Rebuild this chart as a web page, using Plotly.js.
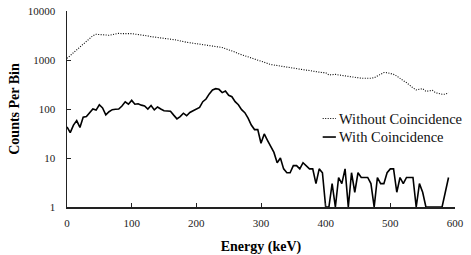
<!DOCTYPE html>
<html>
<head>
<meta charset="utf-8">
<script src="https://cdn.plot.ly/plotly-3.0.1.min.js"></script>
<style>html,body{margin:0;padding:0;background:#fff;}#chart{width:471px;height:255px;}</style>
</head>
<body>
<div id="chart"></div>
<script>
const energy = [0,5,10,15,20,25,30,35,40,45,50,55,60,65,70,75,80,85,90,95,
100,105,110,115,120,125,130,135,140,145,150,155,160,165,170,175,180,185,190,195,
200,205,210,215,220,225,230,235,240,245,250,255,260,265,270,275,280,285,290,295,
300,305,310,315,320,325,330,335,340,345,350,355,360,365,370,375,380,385,390,395,
400,405,410,415,420,425,430,435,440,445,450,455,460,465,470,475,480,485,490,495,
500,505,510,515,520,525,530,535,540,545,550,555,560,565,570,575,580,585,590];

const withoutCoincidence = [1080,1240,1410,1620,1840,2100,2400,2750,3130,3350,3300,3250,3300,3200,3300,3450,3500,3450,3500,3450,
3450,3400,3350,3250,3200,3100,3000,2950,2900,2850,2800,2750,2650,2600,2550,2450,2350,2300,2250,2200,
2150,2150,2100,2050,2000,1980,1900,1850,1800,1700,1620,1520,1450,1350,1280,1200,1150,1100,1040,970,
930,880,840,810,790,770,750,720,700,690,670,650,640,630,620,610,590,575,565,555,
550,495,500,510,495,485,475,460,445,435,430,425,425,420,425,435,470,515,555,550,
535,510,470,430,380,345,300,270,245,255,260,230,235,240,215,205,200,200,215];

const withCoincidence = [43,33,47,58,42,68,70,85,100,95,122,105,76,88,97,99,100,115,140,125,
150,125,128,120,115,100,118,96,110,100,92,91,90,75,63,70,82,73,85,92,
100,108,141,160,203,244,260,252,216,233,190,178,141,122,97,84,65,47,38,38,
20,31,23,17,13,8,10,6,5,5,7,7,6,8,7,6,6,3,6,5,
1,1,3,1,4,3,6,1,5,2,5,4,4,4,3,1,4,3,3,5,
6,6,2,4,3,4,4,4,1,3,2,1,1,1,1,1,1,2,4];

const yTicks = [1,10,100,1000,10000];
const yTickText = ['1','10','100','1000','10000'];
const seriesNames = ['Without Coincidence','With Coincidence'];

const serif = '"Liberation Serif", "DejaVu Serif", serif';

const traces = [
  {x: energy, y: withoutCoincidence, type: 'scatter', mode: 'lines', name: seriesNames[0],
   line: {color: '#000', width: 1.1, dash: '1px,1.5px'}},
  {x: energy, y: withCoincidence, type: 'scatter', mode: 'lines', name: seriesNames[1],
   line: {color: '#000', width: 1.6}}
];

const layout = {
  width: 471, height: 255,
  margin: {l: 67, r: 16, t: 11, b: 48},
  paper_bgcolor: '#fff', plot_bgcolor: '#fff',
  showlegend: false,
  font: {family: serif, size: 11, color: '#000'},
  xaxis: {
    range: [0, 600], dtick: 100, tick0: 0,
    showgrid: false, zeroline: false,
    showline: true, linecolor: '#222', linewidth: 1.5,
    ticks: 'inside', ticklen: 4, tickcolor: '#222', tickwidth: 1,
    tickfont: {family: serif, size: 11, color: '#222'},
    ticklabelstandoff: 5,
    title: {text: '<b>Energy (keV)</b>', font: {family: serif, size: 14, color: '#000'}, standoff: 16}
  },
  yaxis: {
    type: 'log', range: [0, 4],
    tickvals: yTicks, ticktext: yTickText,
    showgrid: false, zeroline: false,
    showline: true, linecolor: '#222', linewidth: 1.5,
    ticks: 'inside', ticklen: 4, tickcolor: '#222', tickwidth: 1,
    tickfont: {family: serif, size: 11, color: '#222'},
    ticklabelstandoff: 8,
    title: {text: '<b>Counts Per Bin</b>', font: {family: serif, size: 14, color: '#000'}, standoff: 5}
  },
  shapes: [
    {type: 'line', xref: 'paper', yref: 'paper', x0: 0.659, x1: 0.693, y0: 0.4515, y1: 0.4515,
     line: {color: '#000', width: 1.1, dash: '1px,1.5px'}},
    {type: 'line', xref: 'paper', yref: 'paper', x0: 0.659, x1: 0.693, y0: 0.357, y1: 0.357,
     line: {color: '#000', width: 1.6}}
  ],
  annotations: [
    {xref: 'paper', yref: 'paper', x: 0.695, y: 0.4515, xanchor: 'left', yanchor: 'middle',
     text: seriesNames[0], showarrow: false, font: {family: serif, size: 14.5, color: '#111'}},
    {xref: 'paper', yref: 'paper', x: 0.695, y: 0.357, xanchor: 'left', yanchor: 'middle',
     text: seriesNames[1], showarrow: false, font: {family: serif, size: 14.5, color: '#111'}}
  ]
};

Plotly.newPlot('chart', traces, layout, {displayModeBar: false, staticPlot: true});
</script>
</body>
</html>
